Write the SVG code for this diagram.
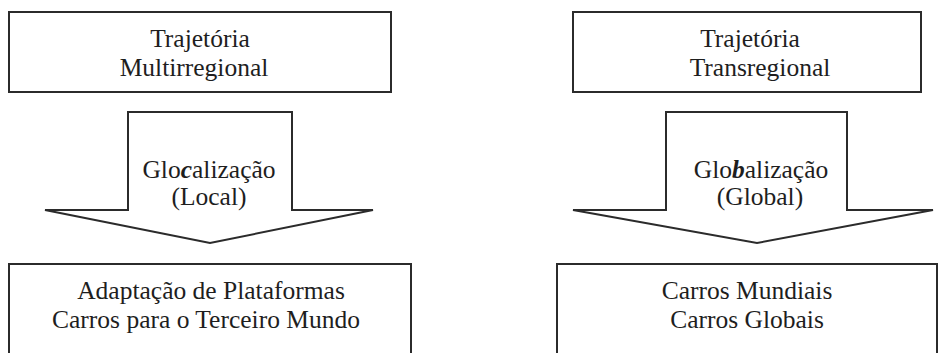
<svg xmlns="http://www.w3.org/2000/svg" width="938" height="353" viewBox="0 0 938 353">
<style>
.box{fill:#fff;stroke:#2b2b2b;stroke-width:2}
.arr{fill:#fff;stroke:#2b2b2b;stroke-width:2;stroke-linejoin:miter}
text{font-family:"Liberation Serif","Times New Roman",serif;font-size:25.5px;fill:#1e1e1e;text-anchor:middle}
.bi{font-weight:bold;font-style:italic}
</style>
<rect width="938" height="353" fill="#fff"/>
<g id="top-left">
<rect class="box" x="9" y="12" width="382" height="80"/>
<text x="200" y="47">Trajetória</text>
<text x="194" y="76">Multirregional</text>
</g>
<g id="top-right">
<rect class="box" x="573" y="12" width="348" height="80"/>
<text x="750" y="47">Trajetória</text>
<text x="760" y="76">Transregional</text>
</g>
<g id="connectors">
<g id="arrow-left">
<polygon class="arr" points="128,112 292,112 292,210 373,210 210,243 45,210 128,210"/>
<text x="209" y="178">Glo<tspan class="bi">c</tspan>alização</text>
<text x="209" y="205">(Local)</text>
</g>
<g id="arrow-right">
<polygon class="arr" points="666,112 847,112 847,210 933,210 757,243 573,210 666,210"/>
<text x="761" y="178">Glo<tspan class="bi">b</tspan>alização</text>
<text x="760" y="205">(Global)</text>
</g>
</g>
<g id="bottom-left">
<rect class="box" x="9" y="264" width="402" height="100"/>
<text x="211" y="299">Adaptação de Plataformas</text>
<text x="206" y="328">Carros para o Terceiro Mundo</text>
</g>
<g id="bottom-right">
<rect class="box" x="557" y="264" width="380" height="100"/>
<text x="747" y="299">Carros Mundiais</text>
<text x="747" y="328">Carros Globais</text>
</g>
</svg>
